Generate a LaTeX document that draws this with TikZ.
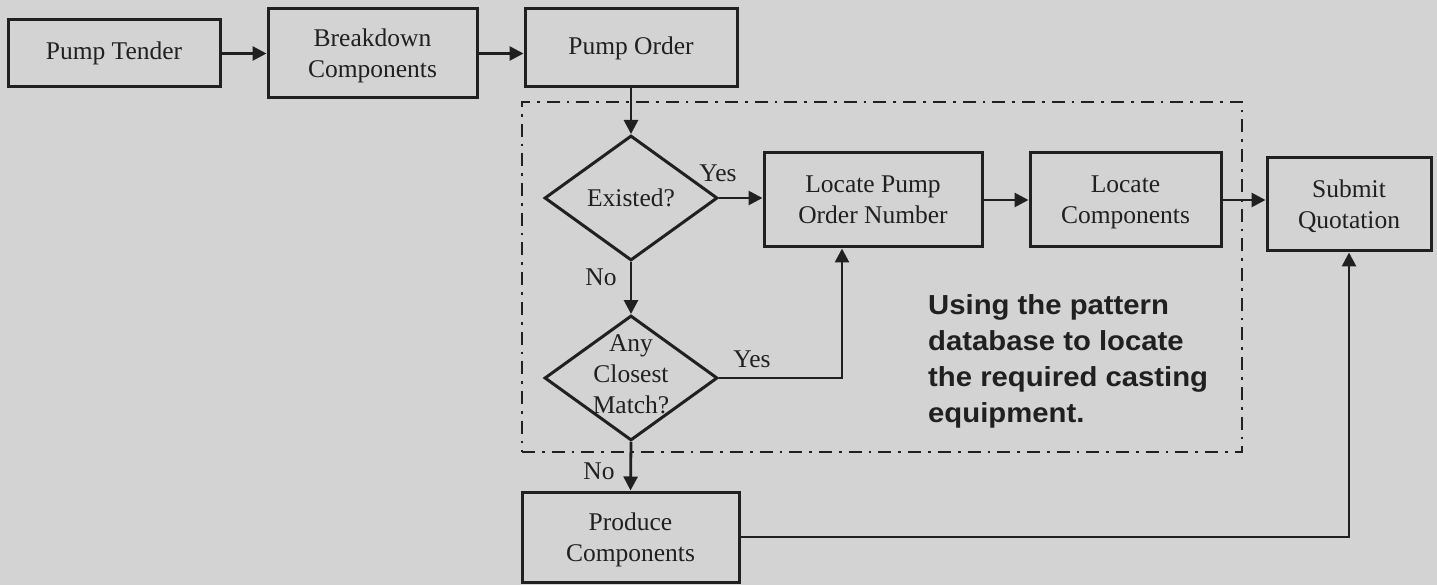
\documentclass[tikz,border=0pt]{standalone}
\usepackage{fontspec}
\setmainfont{Liberation Serif}
\newfontfamily\notefont{Liberation Sans}[FakeStretch=1.065]
\usetikzlibrary{shapes.geometric,arrows.meta,calc}
\definecolor{bgc}{RGB}{211,211,211}
\definecolor{ink}{RGB}{32,32,32}
\begin{document}
\begin{tikzpicture}[x=1pt,y=-1pt,
  every node/.style={text=ink, font=\fontsize{25.5}{31}\selectfont},
  box/.style={draw=ink, line width=3pt, rectangle, inner sep=0pt, align=center},
  two/.style={text depth=0pt},
  dec/.style={draw=ink, line width=3pt, diamond, inner sep=0pt, minimum width=173pt, minimum height=125pt},
  arr/.style={draw=ink, line width=2.8pt, -{Triangle[length=14pt,width=14pt]}},
  lab/.style={anchor=base, inner sep=0pt},
  zone/.style={draw=ink, line width=2.7pt, dash pattern=on 13pt off 7pt on 2.7pt off 7pt, inner sep=0pt}
]
\fill[bgc] (0,0) rectangle (1437,585);
\useasboundingbox (0,0) rectangle (1437,585);

\node[zone, minimum width=720pt, minimum height=350pt] (region) at (882,277) {};

\node[box, minimum width=212pt, minimum height=67pt] (pt) at (114,53.5) {Pump Tender};
\node[box, two, minimum width=209pt, minimum height=89pt] (bd) at (372.5,53.5) {Breakdown\\Components};
\node[box, minimum width=212pt, minimum height=78pt] (po) at (631,48) {Pump Order};
\node[dec] (ex) at (631,198) {};
\node[inner sep=0pt] (ext) at (ex.center) {Existed?};
\node[box, two, minimum width=218pt, minimum height=94pt] (lpon) at (873,200) {Locate Pump\\Order Number};
\node[box, two, minimum width=191pt, minimum height=94pt] (lc) at (1125.5,200) {Locate\\Components};
\node[box, two, minimum width=164pt, minimum height=93pt] (sq) at (1349,204.5) {Submit\\Quotation};
\node[dec] (cm) at (631,378) {};
\node[inner sep=0pt, align=center] (cmt) at (631,374) {Any\\Closest\\Match?};
\node[box, two, minimum width=217pt, minimum height=90pt] (pc) at (630.5,537) {Produce\\Components};

\node[inner sep=0pt, anchor=north west, align=left, font=\notefont\bfseries\fontsize{27.5}{36}\selectfont] (note) at (928,294)
  {Using the pattern\\database to locate\\the required casting\\equipment.};

\coordinate (j1) at (842,378);

\draw[arr] (pt.east) -- (pt.east -| bd.west);
\draw[arr] (bd.east) -- (bd.east -| po.west);
\draw[arr] (po.south) -- (ex.north);
\draw[arr] (ex.east) -- (ex.east -| lpon.west);
\draw[arr] (ex.south) -- (cm.north);
\draw[arr] (cm.east) -- (j1) -- (j1 |- lpon.south);
\draw[arr] (lpon.east) -- (lpon.east -| lc.west);
\draw[arr] (lc.east) -- (lc.east -| sq.west);
\draw[arr] (cm.south) -- (pc.north);
\draw[arr] (pc.east) -| (sq.south);

\node[lab] (y1) at (718,182) {Yes};
\node[lab] (n1) at (601,285) {No};
\node[lab] (y2) at (752,367) {Yes};
\node[lab] (n2) at (599,479) {No};
\end{tikzpicture}
\end{document}
